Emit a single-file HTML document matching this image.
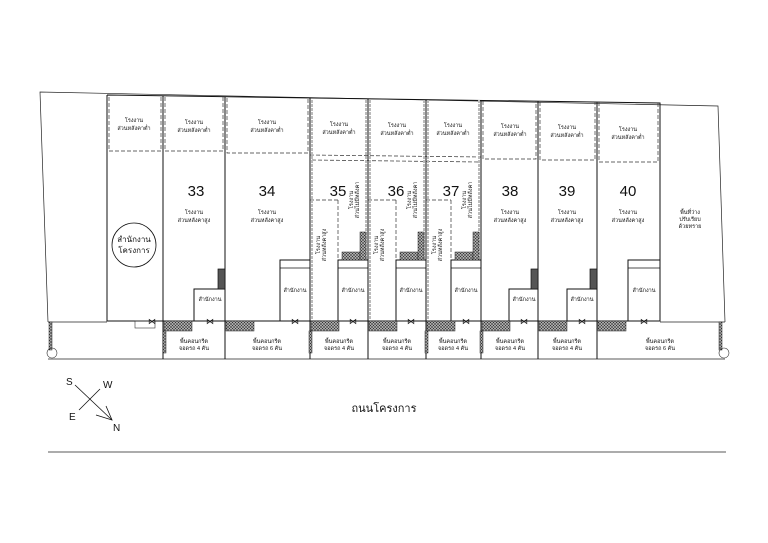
<!DOCTYPE html>
<html><head><meta charset="utf-8"><style>
html,body{margin:0;padding:0;background:#fff}
svg{display:block}
text{font-family:"Liberation Sans","Noto Sans CJK SC",sans-serif;fill:#111}
.s{font-size:5.5px;text-anchor:middle}
.n{font-size:15px;text-anchor:middle}
</style></head><body>
<svg width="768" height="543" viewBox="0 0 768 543" xmlns="http://www.w3.org/2000/svg">
<defs>
<pattern id="h" width="3" height="3" patternUnits="userSpaceOnUse"><rect width="3" height="3" fill="#aaa"/><path d="M0 0L3 3M3 0L0 3" stroke="#333" stroke-width="0.5"/></pattern>
</defs>
<g fill="none" stroke="#222" stroke-width="0.7">
<!-- outer boundary -->
<polyline points="48,322 40,92 718,106 725,322"/>
<line x1="48" y1="359" x2="725" y2="359"/>
<line x1="48" y1="322" x2="107" y2="322"/>
<line x1="660" y1="322" x2="725" y2="322"/>
<line x1="48" y1="452" x2="726" y2="452" stroke-width="0.8"/>
</g>
<g fill="none" stroke="#111" stroke-width="1">
<!-- building envelope -->
<polyline points="107,95 660,103 660,321 107,321 107,95"/>
<line x1="163" y1="96" x2="163" y2="359"/>
<line x1="225" y1="97" x2="225" y2="359"/>
<line x1="310" y1="98" x2="310" y2="359"/>
<line x1="368" y1="99" x2="368" y2="359"/>
<line x1="426" y1="100" x2="426" y2="359"/>
<line x1="481" y1="101" x2="481" y2="359"/>
<line x1="538" y1="101" x2="538" y2="359"/>
<line x1="597" y1="102" x2="597" y2="359"/>
</g>
<!-- dashed roof lines -->
<g fill="none" stroke="#333" stroke-width="0.7" stroke-dasharray="4,2">
<polyline points="109,97 109,151 161,151 161,97"/>
<polyline points="165,97 165,151 223,151 223,97"/>
<polyline points="227,98 227,153 308,153 308,98"/>
<line x1="310" y1="155" x2="481" y2="157"/>
<line x1="312" y1="160" x2="479" y2="162"/>
<line x1="310" y1="200" x2="338" y2="200"/><line x1="338" y1="200" x2="338" y2="260"/>
<line x1="368" y1="200" x2="396" y2="200"/><line x1="396" y1="200" x2="396" y2="260"/>
<line x1="426" y1="200" x2="451" y2="200"/><line x1="451" y1="200" x2="451" y2="260"/>
<polyline points="483,101 483,159 536,159 536,101"/>
<polyline points="540,102 540,160 595,160 595,102"/>
<polyline points="599,102 599,162 658,162 658,103"/>
</g>
<g stroke="#bbb" stroke-width="2" stroke-dasharray="3,1" fill="none">
<line x1="312" y1="100" x2="312" y2="320"/><line x1="366" y1="100" x2="366" y2="260"/>
<line x1="370" y1="100" x2="370" y2="320"/><line x1="424" y1="100" x2="424" y2="260"/>
<line x1="428" y1="100" x2="428" y2="320"/><line x1="479" y1="100" x2="479" y2="260"/>
</g>
<!-- offices -->
<g fill="#fff" stroke="#111" stroke-width="1">
<rect x="194" y="289" width="31" height="32"/>
<rect x="280" y="260" width="30" height="61"/>
<rect x="338" y="260" width="30" height="61"/>
<rect x="396" y="260" width="30" height="61"/>
<rect x="451" y="260" width="30" height="61"/>
<rect x="509" y="289" width="29" height="32"/>
<rect x="567" y="289" width="30" height="32"/>
<rect x="628" y="260" width="32" height="61"/>
</g>
<g fill="none" stroke="#111" stroke-width="0.7">
<line x1="280" y1="268" x2="310" y2="268"/><line x1="338" y1="268" x2="368" y2="268"/>
<line x1="396" y1="268" x2="426" y2="268"/><line x1="451" y1="268" x2="481" y2="268"/>
<line x1="628" y1="268" x2="660" y2="268"/>
<rect x="218" y="269" width="7" height="20" fill="#555"/>
<rect x="531" y="269" width="7" height="20" fill="#555"/>
<rect x="590" y="269" width="7" height="20" fill="#555"/>
</g>
<!-- stairs -->
<g fill="url(#h)" stroke="#222" stroke-width="0.5">
<rect x="342" y="252" width="18" height="8"/><rect x="360" y="232" width="6" height="28"/>
<rect x="400" y="252" width="18" height="8"/><rect x="418" y="232" width="6" height="28"/>
<rect x="455" y="252" width="18" height="8"/><rect x="473" y="232" width="6" height="28"/>
<!-- parking hatch -->
<rect x="164" y="321" width="28" height="10"/><rect x="226" y="321" width="28" height="10"/>
<rect x="311" y="321" width="28" height="10"/><rect x="369" y="321" width="28" height="10"/>
<rect x="427" y="321" width="28" height="10"/><rect x="482" y="321" width="28" height="10"/>
<rect x="539" y="321" width="28" height="10"/><rect x="598" y="321" width="28" height="10"/>
<rect x="163" y="331" width="3" height="22"/><rect x="309" y="331" width="3" height="22"/>
<rect x="425" y="331" width="3" height="22"/><rect x="480" y="331" width="3" height="22"/>
<rect x="49" y="322" width="3" height="28"/><rect x="719" y="322" width="3" height="28"/>
</g>
<g fill="none" stroke="#333" stroke-width="0.6">
<circle cx="52" cy="353" r="5"/><circle cx="724" cy="353" r="5"/>
<circle cx="134" cy="245" r="22" stroke="#111" stroke-width="0.8"/>
<rect x="135" y="321" width="20" height="7"/>
</g>
<!-- door symbols -->
<g font-size="7" text-anchor="middle" fill="#111">
<text x="152" y="324" style="font-size:8px">⋈</text><text x="210" y="324" style="font-size:8px">⋈</text>
<text x="295" y="324" style="font-size:8px">⋈</text><text x="353" y="324" style="font-size:8px">⋈</text>
<text x="411" y="324" style="font-size:8px">⋈</text><text x="466" y="324" style="font-size:8px">⋈</text>
<text x="524" y="324" style="font-size:8px">⋈</text><text x="582" y="324" style="font-size:8px">⋈</text>
<text x="644" y="324" style="font-size:8px">⋈</text>
</g>
<!-- roof labels -->
<g class="s">
<text class="s" x="134" y="122">โรงงาน</text><text class="s" x="134" y="130">ส่วนหลังคาต่ำ</text>
<text class="s" x="194" y="124">โรงงาน</text><text class="s" x="194" y="132">ส่วนหลังคาต่ำ</text>
<text class="s" x="267" y="124">โรงงาน</text><text class="s" x="267" y="132">ส่วนหลังคาต่ำ</text>
<text class="s" x="339" y="126">โรงงาน</text><text class="s" x="339" y="134">ส่วนหลังคาต่ำ</text>
<text class="s" x="397" y="127">โรงงาน</text><text class="s" x="397" y="135">ส่วนหลังคาต่ำ</text>
<text class="s" x="453" y="127">โรงงาน</text><text class="s" x="453" y="135">ส่วนหลังคาต่ำ</text>
<text class="s" x="510" y="128">โรงงาน</text><text class="s" x="510" y="136">ส่วนหลังคาต่ำ</text>
<text class="s" x="567" y="129">โรงงาน</text><text class="s" x="567" y="137">ส่วนหลังคาต่ำ</text>
<text class="s" x="628" y="131">โรงงาน</text><text class="s" x="628" y="139">ส่วนหลังคาต่ำ</text>
</g>
<text class="n" x="196" y="196">33</text><text class="n" x="267" y="196">34</text>
<text class="n" x="338" y="196">35</text><text class="n" x="396" y="196">36</text>
<text class="n" x="451" y="196">37</text><text class="n" x="510" y="196">38</text>
<text class="n" x="567" y="196">39</text><text class="n" x="628" y="196">40</text>
<text class="s" x="194" y="214">โรงงาน</text><text class="s" x="194" y="222">ส่วนหลังคาสูง</text>
<text class="s" x="267" y="214">โรงงาน</text><text class="s" x="267" y="222">ส่วนหลังคาสูง</text>
<text class="s" x="510" y="214">โรงงาน</text><text class="s" x="510" y="222">ส่วนหลังคาสูง</text>
<text class="s" x="567" y="214">โรงงาน</text><text class="s" x="567" y="222">ส่วนหลังคาสูง</text>
<text class="s" x="628" y="214">โรงงาน</text><text class="s" x="628" y="222">ส่วนหลังคาสูง</text>
<text class="s" x="690" y="214">พื้นที่ว่าง</text><text class="s" x="690" y="221">ปรับเรียบ</text><text class="s" x="690" y="228">ด้วยทราย</text>
<text x="134" y="242" style="font-size:8px;text-anchor:middle">สำนักงาน</text>
<text x="134" y="253" style="font-size:8px;text-anchor:middle">โครงการ</text>
<!-- vertical labels -->
<g class="s">
<text class="s" transform="translate(353,200) rotate(-90)">โรงงาน</text><text class="s" transform="translate(359,200) rotate(-90)">ส่วนไม่มีหลังคา</text>
<text class="s" transform="translate(411,200) rotate(-90)">โรงงาน</text><text class="s" transform="translate(417,200) rotate(-90)">ส่วนไม่มีหลังคา</text>
<text class="s" transform="translate(466,200) rotate(-90)">โรงงาน</text><text class="s" transform="translate(472,200) rotate(-90)">ส่วนไม่มีหลังคา</text>
<text class="s" transform="translate(320,245) rotate(-90)">โรงงาน</text><text class="s" transform="translate(326,245) rotate(-90)">ส่วนหลังคาสูง</text>
<text class="s" transform="translate(378,245) rotate(-90)">โรงงาน</text><text class="s" transform="translate(384,245) rotate(-90)">ส่วนหลังคาสูง</text>
<text class="s" transform="translate(436,245) rotate(-90)">โรงงาน</text><text class="s" transform="translate(442,245) rotate(-90)">ส่วนหลังคาสูง</text>
</g>
<!-- office labels -->
<text class="s" x="210" y="301">สำนักงาน</text><text class="s" x="295" y="292">สำนักงาน</text>
<text class="s" x="353" y="292">สำนักงาน</text><text class="s" x="411" y="292">สำนักงาน</text>
<text class="s" x="466" y="292">สำนักงาน</text><text class="s" x="524" y="301">สำนักงาน</text>
<text class="s" x="582" y="301">สำนักงาน</text><text class="s" x="644" y="292">สำนักงาน</text>
<!-- parking labels -->
<text class="s" x="194" y="343">พื้นคอนกรีต</text><text class="s" x="194" y="350">จอดรถ 4 คัน</text>
<text class="s" x="267" y="343">พื้นคอนกรีต</text><text class="s" x="267" y="350">จอดรถ 6 คัน</text>
<text class="s" x="339" y="343">พื้นคอนกรีต</text><text class="s" x="339" y="350">จอดรถ 4 คัน</text>
<text class="s" x="397" y="343">พื้นคอนกรีต</text><text class="s" x="397" y="350">จอดรถ 4 คัน</text>
<text class="s" x="453" y="343">พื้นคอนกรีต</text><text class="s" x="453" y="350">จอดรถ 4 คัน</text>
<text class="s" x="510" y="343">พื้นคอนกรีต</text><text class="s" x="510" y="350">จอดรถ 4 คัน</text>
<text class="s" x="567" y="343">พื้นคอนกรีต</text><text class="s" x="567" y="350">จอดรถ 4 คัน</text>
<text class="s" x="660" y="343">พื้นคอนกรีต</text><text class="s" x="660" y="350">จอดรถ 6 คัน</text>
<!-- compass -->
<g stroke="#111" stroke-width="0.8" fill="none">
<line x1="75" y1="385" x2="112" y2="420"/>
<line x1="100" y1="389" x2="79" y2="410"/>
<polyline points="96,415 112,420 106,406"/>
</g>
<text x="66" y="385" style="font-size:10px">S</text>
<text x="103" y="388" style="font-size:10px">W</text>
<text x="69" y="420" style="font-size:10px">E</text>
<text x="113" y="431" style="font-size:10px">N</text>
<text x="384" y="412" style="font-size:11px;text-anchor:middle">ถนนโครงการ</text>
</svg>
</body></html>
